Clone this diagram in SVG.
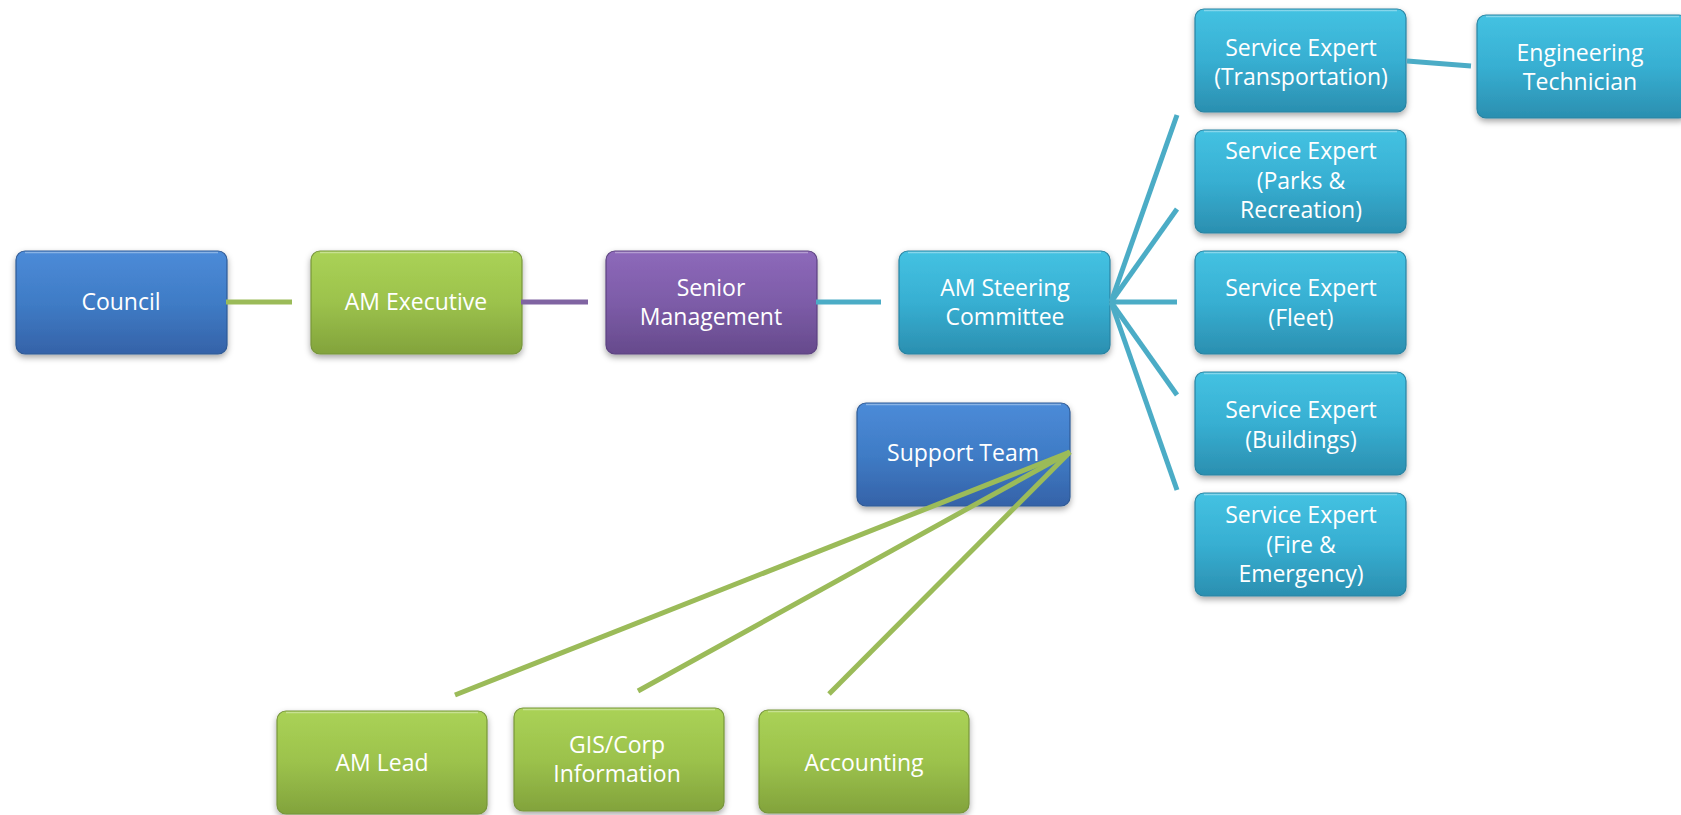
<svg xmlns="http://www.w3.org/2000/svg" width="1681" height="815" viewBox="0 0 1681 815">
  <defs>
    <linearGradient id="gBlue" x1="0" y1="0" x2="0" y2="1">
      <stop offset="0" stop-color="#4c8bd8"/>
      <stop offset="0.5" stop-color="#3f7cc6"/>
      <stop offset="1" stop-color="#3562a8"/>
    </linearGradient>
    <linearGradient id="gGreen" x1="0" y1="0" x2="0" y2="1">
      <stop offset="0" stop-color="#aad256"/>
      <stop offset="0.5" stop-color="#9cc24c"/>
      <stop offset="1" stop-color="#82a33c"/>
    </linearGradient>
    <linearGradient id="gPurple" x1="0" y1="0" x2="0" y2="1">
      <stop offset="0" stop-color="#8d69ba"/>
      <stop offset="0.5" stop-color="#7d5ca8"/>
      <stop offset="1" stop-color="#664a8c"/>
    </linearGradient>
    <linearGradient id="gTeal" x1="0" y1="0" x2="0" y2="1">
      <stop offset="0" stop-color="#44c2e2"/>
      <stop offset="0.5" stop-color="#37afd2"/>
      <stop offset="1" stop-color="#2b8fb0"/>
    </linearGradient>
    <filter id="shadow" x="-10%" y="-10%" width="120%" height="130%">
      <feDropShadow dx="0" dy="3" stdDeviation="3" flood-color="#000" flood-opacity="0.35"/>
    </filter>
  </defs>
  <style>
    .box { stroke-width: 1.2; filter: url(#shadow); }
    .blue { fill: url(#gBlue); stroke: #2f5a96; }
    .green { fill: url(#gGreen); stroke: #77963a; }
    .purple { fill: url(#gPurple); stroke: #5c4280; }
    .teal { fill: url(#gTeal); stroke: #2883a2; }
    .hl { fill: none; stroke: #ffffff; stroke-opacity: 0.35; stroke-width: 1.5; }
    .lbl { font-family: "Open Sans", "Liberation Sans", sans-serif; font-size: 23px; fill: #ffffff; text-anchor: middle; }
    .c { stroke-width: 5; stroke-linecap: butt; fill: none; }
    .cg { stroke: #9bbb59; }
    .cp { stroke: #8064a2; }
    .ct { stroke: #4bacc6; }
  </style>

  <g id="council">
    <rect class="box blue" x="16" y="251" width="211" height="103" rx="9"/>
    <path class="hl" d="M25 252.5 H218"/>
    <text class="lbl" x="121" y="310">Council</text>
  </g>

  <g id="am-executive">
    <rect class="box green" x="311" y="251" width="211" height="103" rx="9"/>
    <path class="hl" d="M320 252.5 H513"/>
    <text class="lbl" x="416" y="310">AM Executive</text>
  </g>

  <g id="senior-management">
    <rect class="box purple" x="606" y="251" width="211" height="103" rx="9"/>
    <path class="hl" d="M615 252.5 H808"/>
    <text class="lbl" x="711" y="296">Senior</text>
    <text class="lbl" x="711" y="325">Management</text>
  </g>

  <g id="am-steering-committee">
    <rect class="box teal" x="899" y="251" width="211" height="103" rx="9"/>
    <path class="hl" d="M908 252.5 H1101"/>
    <text class="lbl" x="1005" y="296">AM Steering</text>
    <text class="lbl" x="1005" y="325">Committee</text>
  </g>

  <g id="se-transportation">
    <rect class="box teal" x="1195" y="9" width="211" height="103" rx="9"/>
    <path class="hl" d="M1204 10.5 H1397"/>
    <text class="lbl" x="1301" y="56">Service Expert</text>
    <text class="lbl" x="1301" y="85">(Transportation)</text>
  </g>

  <g id="engineering-technician">
    <rect class="box teal" x="1477" y="15" width="211" height="103" rx="9"/>
    <path class="hl" d="M1486 16.5 H1679"/>
    <text class="lbl" x="1580" y="61">Engineering</text>
    <text class="lbl" x="1580" y="90">Technician</text>
  </g>

  <g id="se-parks">
    <rect class="box teal" x="1195" y="130" width="211" height="103" rx="9"/>
    <path class="hl" d="M1204 131.5 H1397"/>
    <text class="lbl" x="1301" y="159">Service Expert</text>
    <text class="lbl" x="1301" y="189">(Parks &amp;</text>
    <text class="lbl" x="1301" y="218">Recreation)</text>
  </g>

  <g id="se-fleet">
    <rect class="box teal" x="1195" y="251" width="211" height="103" rx="9"/>
    <path class="hl" d="M1204 252.5 H1397"/>
    <text class="lbl" x="1301" y="296">Service Expert</text>
    <text class="lbl" x="1301" y="326">(Fleet)</text>
  </g>

  <g id="se-buildings">
    <rect class="box teal" x="1195" y="372" width="211" height="103" rx="9"/>
    <path class="hl" d="M1204 373.5 H1397"/>
    <text class="lbl" x="1301" y="418">Service Expert</text>
    <text class="lbl" x="1301" y="448">(Buildings)</text>
  </g>

  <g id="se-fire">
    <rect class="box teal" x="1195" y="493" width="211" height="103" rx="9"/>
    <path class="hl" d="M1204 494.5 H1397"/>
    <text class="lbl" x="1301" y="523">Service Expert</text>
    <text class="lbl" x="1301" y="553">(Fire &amp;</text>
    <text class="lbl" x="1301" y="582">Emergency)</text>
  </g>

  <g id="support-team">
    <rect class="box blue" x="857" y="403" width="213" height="103" rx="9"/>
    <path class="hl" d="M866 404.5 H1061"/>
    <text class="lbl" x="963" y="461">Support Team</text>
  </g>

  <g id="am-lead">
    <rect class="box green" x="277" y="711" width="210" height="103" rx="9"/>
    <path class="hl" d="M286 712.5 H478"/>
    <text class="lbl" x="382" y="771">AM Lead</text>
  </g>

  <g id="gis-corp">
    <rect class="box green" x="514" y="708" width="210" height="103" rx="9"/>
    <path class="hl" d="M523 709.5 H715"/>
    <text class="lbl" x="617" y="753">GIS/Corp</text>
    <text class="lbl" x="617" y="782">Information</text>
  </g>

  <g id="accounting">
    <rect class="box green" x="759" y="710" width="210" height="103" rx="9"/>
    <path class="hl" d="M768 711.5 H960"/>
    <text class="lbl" x="864" y="771">Accounting</text>
  </g>

  <!-- connectors, drawn last so the support lines cross over their box -->
  <g id="connectors">
    <line class="c cg" x1="226" y1="302" x2="292" y2="302"/>
    <line class="c cp" x1="521" y1="302" x2="588" y2="302"/>
    <line class="c ct" x1="816" y1="302" x2="881" y2="302"/>
    <line class="c ct" x1="1111" y1="302" x2="1177" y2="115"/>
    <line class="c ct" x1="1111" y1="302" x2="1177" y2="209"/>
    <line class="c ct" x1="1111" y1="302" x2="1177" y2="302"/>
    <line class="c ct" x1="1111" y1="302" x2="1177" y2="395"/>
    <line class="c ct" x1="1111" y1="302" x2="1177" y2="490"/>
    <line class="c ct" x1="1407" y1="61" x2="1471" y2="66"/>
    <line class="c cg" x1="1070" y1="452" x2="455" y2="695"/>
    <line class="c cg" x1="1070" y1="452" x2="638" y2="691"/>
    <line class="c cg" x1="1070" y1="452" x2="829" y2="694"/>
  </g>
</svg>
